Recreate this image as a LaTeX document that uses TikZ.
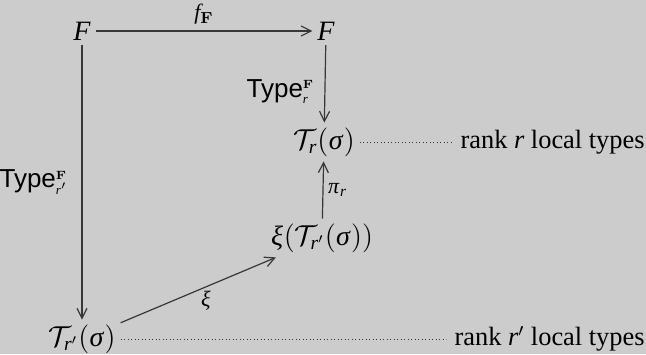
\documentclass[tikz,border=0pt]{standalone}
\usepackage{amsmath}
\usepackage{mathspec}
\setmainfont{Liberation Serif}
\setsansfont{Liberation Sans}
\setmathsfont(Latin,Greek){Liberation Serif}
\usetikzlibrary{positioning,arrows.meta}
\definecolor{PageGray}{RGB}{204,204,204}
\definecolor{InkGray}{RGB}{55,55,55}
\newcommand{\typemap}[1]{\textsf{Type}$^{\scriptscriptstyle\mathbf{F}}_{\scriptscriptstyle #1}$}
\tikzset{
  obj/.style={inner sep=2.5pt,outer sep=0pt,font=\fontsize{14}{16}\selectfont},
  lbl/.style={inner sep=0pt,font=\fontsize{13.2}{16}\selectfont},
  maplbl/.style={inner sep=2pt,font=\fontsize{11}{13}\selectfont},
  typelbl/.style={inner sep=0pt,font=\fontsize{13}{15}\selectfont},
  map/.style={-{Straight Barb[length=5pt,width=5pt]},line width=0.6pt,draw=InkGray},
  dotline/.style={line width=0.5pt,draw=InkGray,dash pattern=on 0.45pt off 1.3pt,
    shorten >=4pt}
}

\begin{document}
\begin{tikzpicture}[x=0.5pt,y=-0.5pt]
  \fill[PageGray] (0,0) rectangle (646,354);
  \useasboundingbox (0,0) rectangle (646,354);
  \node[obj] (F) at (82,31) {$F$};
  \node[obj] (G) at (326,31) {$F$};
  \node[obj] (Tr) at (324,142) {$\mathcal{T}_r(\sigma)$};
  \node[obj] (xiT) at (322,238) {$\xi(\mathcal{T}_{r'}(\sigma))$};
  \node[obj] (Trp) at (82,339) {$\mathcal{T}_{r'}(\sigma)$};
  \node[lbl,anchor=east] (rankr) at (645,142) {rank $r$ local types};
  \node[lbl,anchor=east] (rankrp) at (645,339) {rank $r'$ local types};
  \draw[map] (F) -- node[maplbl,above=1pt] {$f_{\mathbf{F}}$} (G);
  \draw[map] (G) -- node[typelbl,left=5pt,pos=0.6] {\typemap{r}} (Tr);
  \draw[map] (F) -- node[typelbl,left=7pt] {\typemap{r'}} (Trp);
  \draw[map] (xiT) -- node[maplbl,right] {$\pi_r$} (Tr);
  \draw[map] (Trp) -- node[maplbl,below,pos=0.55] {$\xi$} (xiT);
  \draw[dotline] (Tr) -- (rankr);
  \draw[dotline] (Trp) -- (rankrp);
\end{tikzpicture}
\end{document}
